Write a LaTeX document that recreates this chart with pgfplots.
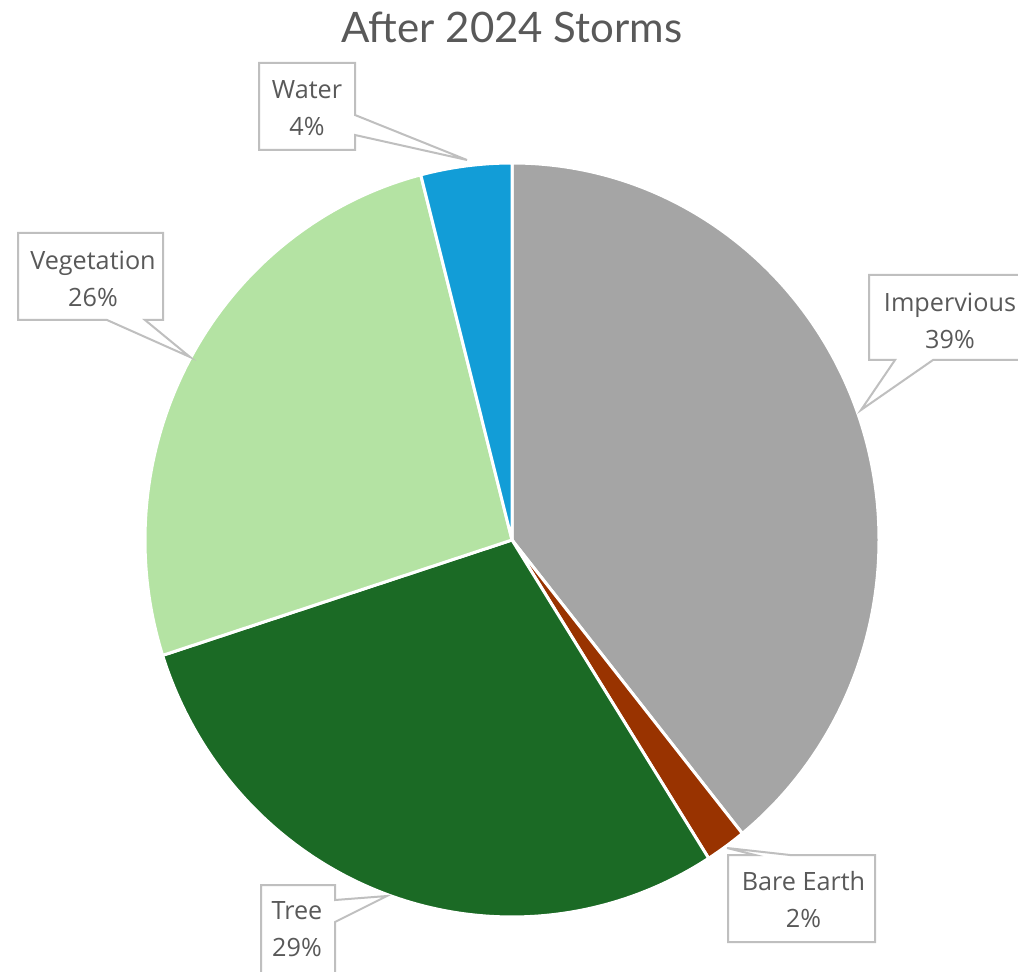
\documentclass[border=0pt]{standalone}
\usepackage{pgfplots}
\pgfplotsset{compat=1.18}
\usepackage{pgfplotstable}
\usepackage{fontspec}
\setmainfont{Lato}
\newfontfamily\labfont{Open Sans}
\definecolor{txt}{HTML}{595959}
\definecolor{boxc}{HTML}{BFBFBF}
\definecolor{c0}{HTML}{A5A5A5}
\definecolor{c1}{HTML}{993300}
\definecolor{c2}{HTML}{1B6A25}
\definecolor{c3}{HTML}{B4E3A3}
\definecolor{c4}{HTML}{129DD7}

\pgfplotstableread{
label value
Impervious 39.2
BareEarth 1.8
Tree 29.05
Vegetation 25.95
Water 4.0
}\piedata

\begin{document}
\begin{tikzpicture}
\useasboundingbox (0,0) rectangle (509pt,485.5pt);
\clip (0,0) rectangle (509pt,485.5pt);
\begin{axis}[at={(0,0)}, anchor=south west, scale only axis,
  width=509pt, height=485.5pt, xmin=0, xmax=1018, ymin=0, ymax=971,
  hide axis, clip=false]
\pgfplotsextra{
  \gdef\cum{0}
  \foreach \i in {0,...,4}{
    \pgfplotstablegetelem{\i}{value}\of\piedata
    \pgfmathsetmacro\sa{90-3.6*\cum}
    \pgfmathsetmacro\ea{90-3.6*(\cum+\pgfplotsretval)}
    \pgfmathsetmacro\newcum{\cum+\pgfplotsretval}
    \global\let\cum\newcum
    \filldraw[fill=c\i, draw=white, line width=1.5pt, line join=round]
      (axis cs:512,431) -- ++(\sa:183.5pt and 188.5pt)
      arc[start angle=\sa, end angle=\ea, x radius=183.5pt, y radius=188.5pt] -- cycle;
  }
}
\addplot[draw=none] coordinates {(0,0)};
% callouts
\draw[boxc, line width=1pt, fill=white, line join=miter]
  (axis cs:259,908) -- (axis cs:355,908) -- (axis cs:355,856) -- (axis cs:467,811)
  -- (axis cs:355,836) -- (axis cs:355,821) -- (axis cs:259,821) -- cycle;
\draw[boxc, line width=1pt, fill=white]
  (axis cs:18,738) -- (axis cs:163,738) -- (axis cs:163,651) -- (axis cs:145,651)
  -- (axis cs:190,614) -- (axis cs:107,651) -- (axis cs:18,651) -- cycle;
\draw[boxc, line width=1pt, fill=white]
  (axis cs:869,696) -- (axis cs:1030,696) -- (axis cs:1030,611) -- (axis cs:933,611)
  -- (axis cs:861,561) -- (axis cs:895,611) -- (axis cs:869,611) -- cycle;
\draw[boxc, line width=1pt, fill=white]
  (axis cs:728,116) -- (axis cs:755,116) -- (axis cs:727,123) -- (axis cs:790,116)
  -- (axis cs:875,116) -- (axis cs:875,29) -- (axis cs:728,29) -- cycle;
\draw[boxc, line width=1pt, fill=white]
  (axis cs:261,86) -- (axis cs:335,86) -- (axis cs:335,71) -- (axis cs:387,75)
  -- (axis cs:335,49) -- (axis cs:335,-20) -- (axis cs:261,-20) -- cycle;
\tikzset{lab/.style={text=txt, align=center, inner sep=0pt, font=\labfont\fontsize{12.6}{18.5}\selectfont}}
\node[lab] at (axis cs:307,862.5) {Water\\4\%};
\node[lab] at (axis cs:93,692) {Vegetation\\26\%};
\node[lab] at (axis cs:950,650.5) {Impervious\\39\%};
\node[lab] at (axis cs:803.5,71) {Bare Earth\\2\%};
\node[lab] at (axis cs:297,41.5) {Tree\\29\%};
\node[text=txt, inner sep=0pt, font=\fontsize{21}{25}\selectfont] at (axis cs:512,944) {After 2024 Storms};
\end{axis}
\end{tikzpicture}
\end{document}
